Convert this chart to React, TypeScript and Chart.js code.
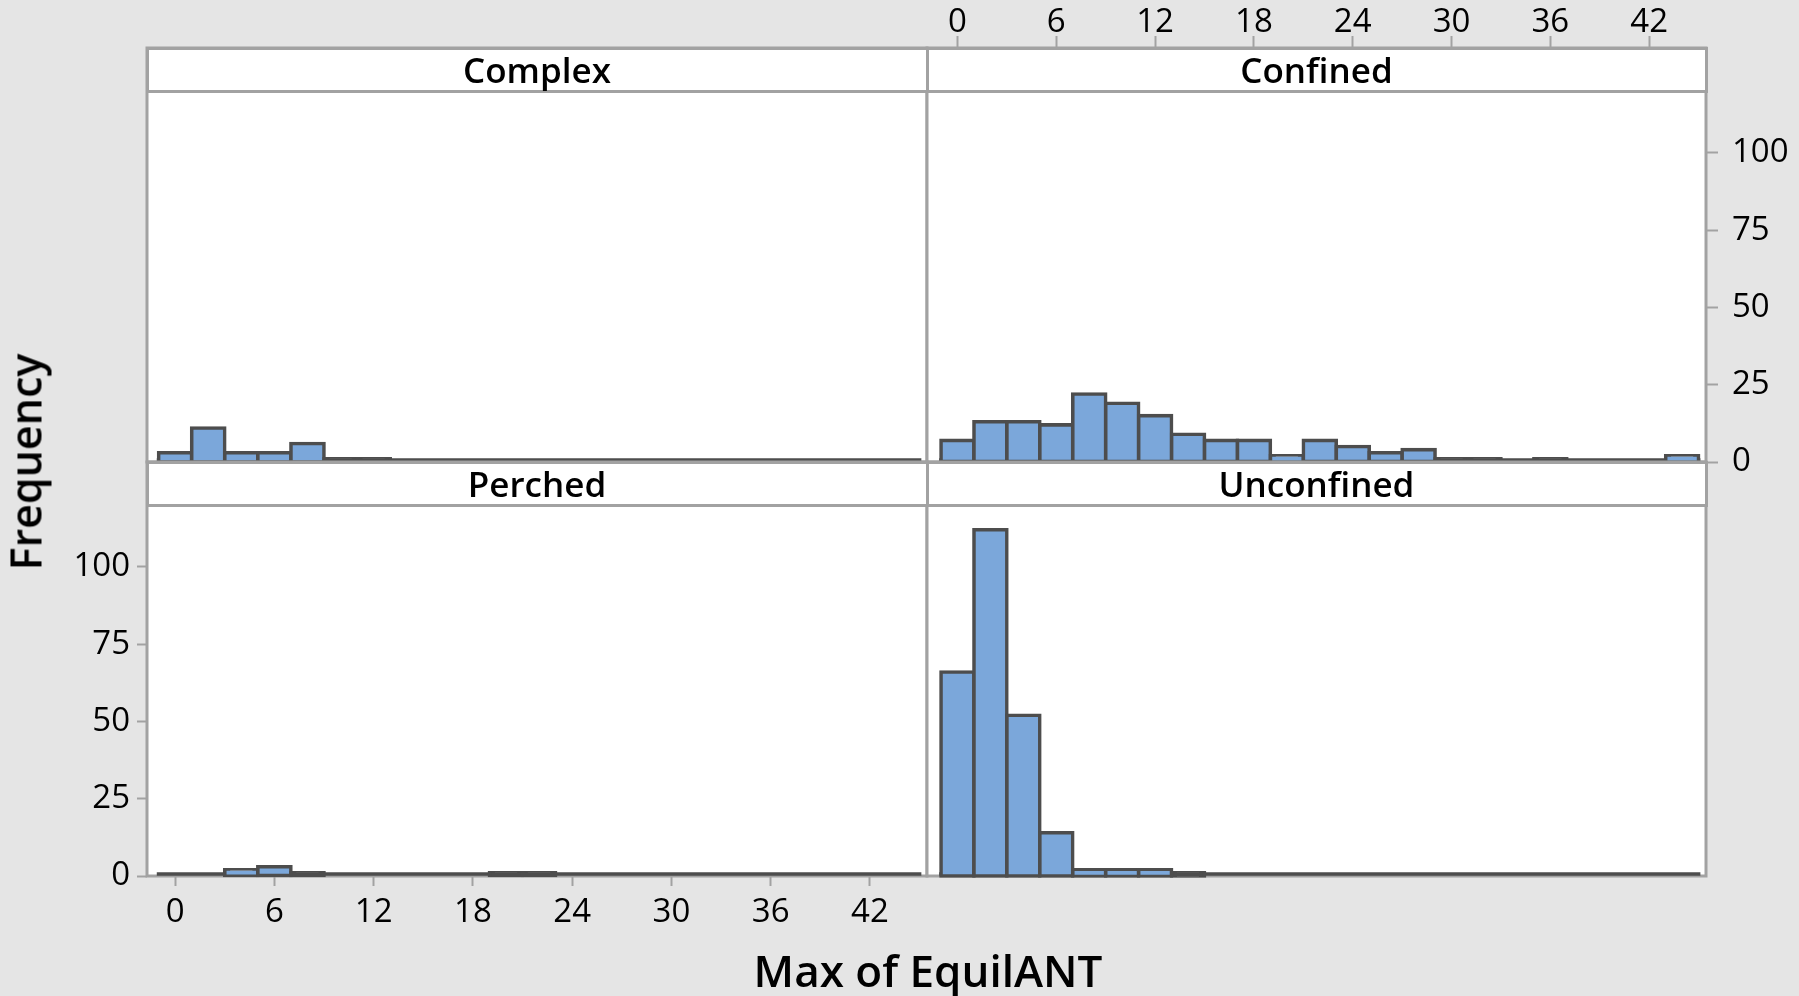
import React, { useEffect, useRef } from 'react';
import { Chart, registerables } from 'chart.js';

Chart.register(...registerables);

// ---------------- data ----------------
const BIN_CENTERS = [0, 2, 4, 6, 8, 10, 12, 14, 16, 18, 20, 22, 24, 26, 28, 30, 32, 34, 36, 38, 40, 42, 44];
const COMPLEX = [3, 11, 3, 3, 6, 1, 1, 0, 0, 0, 0, 0, 0, 0, 0, 0, 0, 0, 0, 0, 0, 0, 0];
const CONFINED = [7, 13, 13, 12, 22, 19, 15, 9, 7, 7, 2, 7, 5, 3, 4, 1, 1, 0, 1, 0, 0, 0, 2];
const PERCHED = [0, 0, 2, 3, 1, 0, 0, 0, 0, 0, 1, 1, 0, 0, 0, 0, 0, 0, 0, 0, 0, 0, 0];
const UNCONFINED = [66, 112, 52, 14, 2, 2, 2, 1, 0, 0, 0, 0, 0, 0, 0, 0, 0, 0, 0, 0, 0, 0, 0];
const X_TICKS = [0, 6, 12, 18, 24, 30, 36, 42];
const Y_TICKS = [0, 25, 50, 75, 100];
const X_TITLE = 'Max of EquilANT';
const Y_TITLE = 'Frequency';

// ---------------- layout / style ----------------
const W = 1799;
const H = 996;
const FL = 147;
const FM = 927;
const FR = 1706;
const FT = 48;
const ROW_MID = 462;
const FB = 876;
const STRIP_H = 43;
const Y_VISIBLE_MAX = 120;

const BG = '#e5e5e5';
const FRAME = '#a2a2a2';
const FILL = '#7ba7da';
const OUTLINE = '#4d4d4d';
const FONT = "'Open Sans', 'Noto Sans', sans-serif";
const TICK_FONT = { family: FONT, size: 33 };
const BAR_BORDER = 3.6;

type Spec = {
  name: string;
  values: number[];
  L: number; T: number; R: number; B: number;
  xMin: number; xMax: number;
  top?: boolean; right?: boolean; bottom?: boolean; left?: boolean;
};

const PANELS: Spec[] = [
  { name: 'Complex', values: COMPLEX, L: FL, T: FT, R: FM, B: ROW_MID, xMin: -1.7, xMax: 45.45 },
  { name: 'Confined', values: CONFINED, L: FM, T: FT, R: FR, B: ROW_MID, xMin: -1.85, xMax: 45.45, top: true, right: true },
  { name: 'Perched', values: PERCHED, L: FL, T: ROW_MID, R: FM, B: FB, xMin: -1.7, xMax: 45.45, bottom: true, left: true },
  { name: 'Unconfined', values: UNCONFINED, L: FM, T: ROW_MID, R: FR, B: FB, xMin: -1.85, xMax: 45.45 },
];

const LEFT_W = FL;
const TOP_H = FT;
const RIGHT_W = W - FR;
const BOTTOM_H = H - FB;

const framePlugin = {
  id: 'panelFrame',
  beforeDraw(chart: any) {
    const { ctx, chartArea } = chart;
    const { left, top, right, bottom } = chartArea;
    ctx.save();
    ctx.fillStyle = '#ffffff';
    ctx.fillRect(left, top, right - left, bottom - top);
    ctx.restore();
  },
  beforeDatasetsDraw(chart: any) {
    const { ctx, chartArea, scales } = chart;
    const { left, top, right, bottom } = chartArea;
    ctx.save();
    ctx.strokeStyle = FRAME;
    ctx.lineWidth = 3;
    ctx.strokeRect(left, top, right - left, bottom - top);
    // dark baseline under the histogram bins
    const half = (BIN_CENTERS[1] - BIN_CENTERS[0]) / 2;
    const x0 = scales.x.getPixelForValue(BIN_CENTERS[0] - half);
    const x1 = scales.x.getPixelForValue(BIN_CENTERS[BIN_CENTERS.length - 1] + half);
    const y0 = scales.y.getPixelForValue(0) - 2;
    ctx.strokeStyle = OUTLINE;
    ctx.lineWidth = BAR_BORDER;
    ctx.beginPath();
    ctx.moveTo(x0 - BAR_BORDER / 2, y0);
    ctx.lineTo(x1 + BAR_BORDER / 2, y0);
    ctx.stroke();
    ctx.restore();
  },
};

function makeConfig(s: Spec): any {
  const yMax = (Y_VISIBLE_MAX * (s.B - s.T)) / (s.B - s.T - STRIP_H);
  const xTicks = (scale: any) => {
    scale.ticks = X_TICKS.map((v) => ({ value: v }));
  };
  const yTicks = (scale: any) => {
    scale.ticks = Y_TICKS.map((v) => ({ value: v }));
  };
  const axisGrid = (len: number) => ({
    display: true,
    offset: false,
    drawOnChartArea: false,
    drawTicks: true,
    tickLength: len,
    tickWidth: 2,
    tickColor: FRAME,
  });
  const hasX = !!(s.top || s.bottom);
  const hasY = !!(s.left || s.right);
  return {
    type: 'bar',
    data: {
      datasets: [
        {
          data: BIN_CENTERS.map((x, i) => ({ x, y: s.values[i] })),
          backgroundColor: (c: any) => {
            const v = c && c.parsed ? c.parsed.y : undefined;
            return v !== undefined && v <= 1 ? OUTLINE : FILL;
          },
          borderColor: OUTLINE,
          borderWidth: BAR_BORDER,
          borderSkipped: false,
          inflateAmount: BAR_BORDER / 2,
          barPercentage: 1,
          categoryPercentage: 1,
          clip: false,
        },
      ],
    },
    options: {
      responsive: false,
      animation: false,
      devicePixelRatio: 1,
      events: [],
      layout: {
        padding: {
          left: s.L - (s.left ? LEFT_W : 0),
          right: W - s.R - (s.right ? RIGHT_W : 0),
          top: s.T - (s.top ? TOP_H : 0),
          bottom: H - s.B - (s.bottom ? BOTTOM_H : 0),
        },
      },
      plugins: { legend: { display: false }, tooltip: { enabled: false }, title: { display: false } },
      scales: {
        x: {
          type: 'linear',
          display: hasX,
          offset: false,
          position: s.top ? 'top' : 'bottom',
          min: s.xMin,
          max: s.xMax,
          afterBuildTicks: xTicks,
          afterFit: (scale: any) => {
            scale.height = hasX ? (s.top ? TOP_H : BOTTOM_H) : 0;
          },
          grid: axisGrid(s.top ? 12 : 10),
          border: { display: false },
          ticks: {
            font: { ...TICK_FONT, lineHeight: 1.2 },
            color: '#000',
            padding: s.top ? -6 : 7,
            maxRotation: 0,
            autoSkip: false,
          },
        },
        y: {
          type: 'linear',
          display: hasY,
          offset: false,
          position: s.right ? 'right' : 'left',
          min: 0,
          max: yMax,
          afterBuildTicks: yTicks,
          afterFit: (scale: any) => {
            scale.width = hasY ? (s.right ? RIGHT_W : LEFT_W) : 0;
          },
          grid: axisGrid(s.right ? 12 : 10),
          border: { display: false },
          ticks: {
            font: TICK_FONT,
            color: '#000',
            crossAlign: 'near',
            padding: s.right ? 14 : 7,
          },
        },
      },
    },
    plugins: [framePlugin],
  };
}

function Panel({ spec }: { spec: Spec }) {
  const ref = useRef<HTMLCanvasElement>(null);
  useEffect(() => {
    const chart = new Chart(ref.current as HTMLCanvasElement, makeConfig(spec));
    return () => chart.destroy();
  }, [spec]);
  return (
    <canvas
      ref={ref}
      width={W}
      height={H}
      style={{ position: 'absolute', left: 0, top: 0, width: W, height: H }}
    />
  );
}

function Strip({ spec }: { spec: Spec }) {
  return (
    <div
      style={{
        position: 'absolute',
        left: spec.L - 1.5,
        top: spec.T - 1.5,
        width: spec.R - spec.L + 3,
        height: STRIP_H + 3,
        boxSizing: 'border-box',
        border: `3px solid ${FRAME}`,
        background: '#ffffff',
        display: 'flex',
        alignItems: 'center',
        justifyContent: 'center',
        fontFamily: FONT,
        fontWeight: 600,
        fontSize: 35,
        color: '#000',
        lineHeight: 1,
        whiteSpace: 'nowrap',
      }}
    >
      {spec.name}
    </div>
  );
}

export default function App() {
  return (
    <div
      style={{
        position: 'absolute',
        left: 0,
        top: 0,
        width: W,
        height: H,
        background: BG,
        overflow: 'hidden',
      }}
    >
      {PANELS.map((p) => (
        <Panel key={p.name} spec={p} />
      ))}
      {PANELS.map((p) => (
        <Strip key={'s' + p.name} spec={p} />
      ))}
      <div
        style={{
          position: 'absolute',
          left: 25,
          top: 462,
          transform: 'translate(-50%, -50%) rotate(-90deg)',
          fontFamily: FONT,
          fontWeight: 600,
          fontSize: 43,
          color: '#000',
          whiteSpace: 'nowrap',
          lineHeight: 1,
        }}
      >
        {Y_TITLE}
      </div>
      <div
        style={{
          position: 'absolute',
          left: 928,
          top: 970,
          transform: 'translate(-50%, -50%)',
          fontFamily: FONT,
          fontWeight: 600,
          fontSize: 44,
          color: '#000',
          whiteSpace: 'nowrap',
          lineHeight: 1,
        }}
      >
        {X_TITLE}
      </div>
    </div>
  );
}
